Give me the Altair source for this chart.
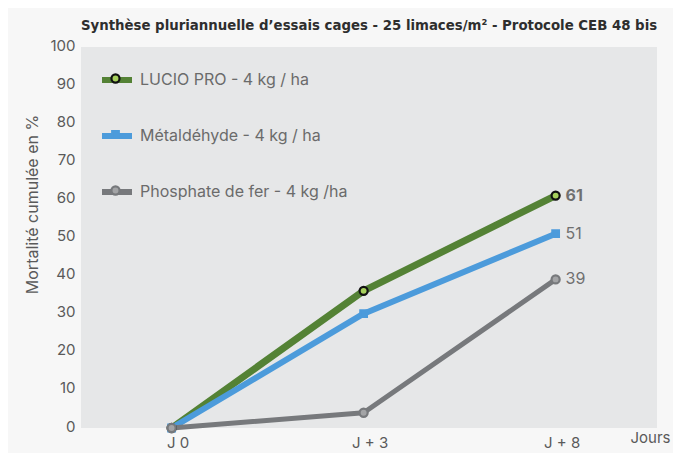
import altair as alt
import pandas as pd

days = ["J 0", "J + 3", "J + 8"]
series = ["LUCIO PRO - 4 kg / ha", "Métaldéhyde - 4 kg / ha", "Phosphate de fer - 4 kg /ha"]
lucio = [0, 36, 61]
metal = [0, 30, 51]
phos = [0, 4, 39]

line_colors = ["#548235", "#4c9bdb", "#77797c"]
line_widths = [7, 5, 5]
marker_fill = ["#a6d05c", "#4c9bdb", "#a3a4a6"]
marker_stroke = ["#111111", "#4c9bdb", "#77797c"]
circle = "M-0.27,0 A0.27,0.27 0 1,0 0.27,0 A0.27,0.27 0 1,0 -0.27,0 Z"
square = "M-0.22,-0.22 L0.22,-0.22 L0.22,0.22 L-0.22,0.22 Z"
marker_shapes = [circle, square, circle]

rows = []
for s, vals in zip(series, [lucio, metal, phos]):
    for i, (d, v) in enumerate(zip(days, vals)):
        rows.append({"serie": s, "marqueur": s, "jour": d, "idx": i, "valeur": v})
df = pd.DataFrame(rows)

FONT = "Inter"
TXT = "#5a5a5a"
TITLE_FONT = "DejaVu Sans Condensed, Liberation Sans"

x_enc = alt.X("jour:N", sort=days,
              scale=alt.Scale(type="point", paddingOuter=0.4545, align=0.472),
              axis=alt.Axis(title="Jours", grid=False, domain=False, ticks=False, labelAngle=0,
                            labelPadding=7, labelOffset=6, labelFontSize=15, labelFont=FONT,
                            labelColor=TXT, titleFont=FONT, titleFontSize=15, titleFontWeight="normal",
                            titleColor=TXT, titleX=549, titleY=9, titleAlign="left",
                            titleBaseline="middle"))
y_enc = alt.Y("valeur:Q", scale=alt.Scale(domain=[0, 100], nice=False),
              axis=alt.Axis(title="Mortalité cumulée en %", values=list(range(0, 101, 10)),
                            grid=False, domain=False, ticks=False, labelPadding=6,
                            labelOffset=-2, labelFontSize=15, labelFont=FONT, labelColor=TXT,
                            titleFont=FONT, titleFontSize=16, titleFontWeight="normal",
                            titleColor=TXT, titleX=-49, titleY=157, titleAlign="center",
                            titleBaseline="middle", titleAngle=-90))

leg_common = dict(title=None, orient="none", legendX=18, legendY=15, symbolSize=900,
                  labelFontSize=16, labelFont=FONT, labelOffset=5,
                  labelLimit=0, direction="vertical")

lines = alt.Chart(df).mark_line(strokeCap="round", strokeJoin="round").encode(
    x=x_enc, y=y_enc,
    color=alt.Color("serie:N", sort=series,
                    scale=alt.Scale(range=line_colors),
                    legend=alt.Legend(symbolType="stroke", symbolStrokeWidth=6, rowPadding=26,
                                      labelColor="#6b6b6b", **leg_common)),
    strokeWidth=alt.StrokeWidth("serie:N", sort=series, scale=alt.Scale(range=line_widths),
                                legend=None),
    order=alt.Order("idx:Q"),
)

mk_leg = alt.Legend(labelOpacity=0, labelExpr="' '", symbolStrokeWidth=2.2, symbolOpacity=1,
                    rowPadding=31, **leg_common)
points = alt.Chart(df).mark_point(filled=True, size=900, strokeWidth=2.2, opacity=1).encode(
    x=x_enc, y=y_enc,
    shape=alt.Shape("marqueur:N", scale=alt.Scale(domain=series, range=marker_shapes),
                    legend=mk_leg),
    fill=alt.Fill("marqueur:N", scale=alt.Scale(domain=series, range=marker_fill),
                  legend=mk_leg),
    stroke=alt.Stroke("marqueur:N", scale=alt.Scale(domain=series, range=marker_stroke),
                      legend=mk_leg),
)

end = alt.Chart(df).transform_filter(alt.datum.jour == days[-1])
labels_bold = end.transform_filter(alt.datum.serie == series[0]).mark_text(
    align="left", baseline="middle", dx=10, fontSize=16, font=FONT, color="#707070",
    fontWeight="bold"
).encode(x=x_enc, y=y_enc, text="valeur:Q")
labels_norm = end.transform_filter(alt.datum.serie != series[0]).mark_text(
    align="left", baseline="middle", dx=10, fontSize=16, font=FONT, color="#707070"
).encode(x=x_enc, y=y_enc, text="valeur:Q")

chart = alt.layer(lines, points, labels_bold, labels_norm).properties(
    width=576, height=381,
    autosize=alt.AutoSizeParams(type="none"),
    padding={"left": 73, "top": 39, "right": 16, "bottom": 25},
    background="#f7f7f7",
    title=alt.TitleParams(
        "Synthèse pluriannuelle d’essais cages - 25 limaces/m² - Protocole CEB 48 bis",
        anchor="middle", font=TITLE_FONT, fontSize=14.8, fontWeight="bold",
        color="#2e2e2e", offset=5),
).configure_view(fill="#e6e7e8", stroke=None)

chart.save("out.html", embed_options={"renderer": "svg", "actions": False})
